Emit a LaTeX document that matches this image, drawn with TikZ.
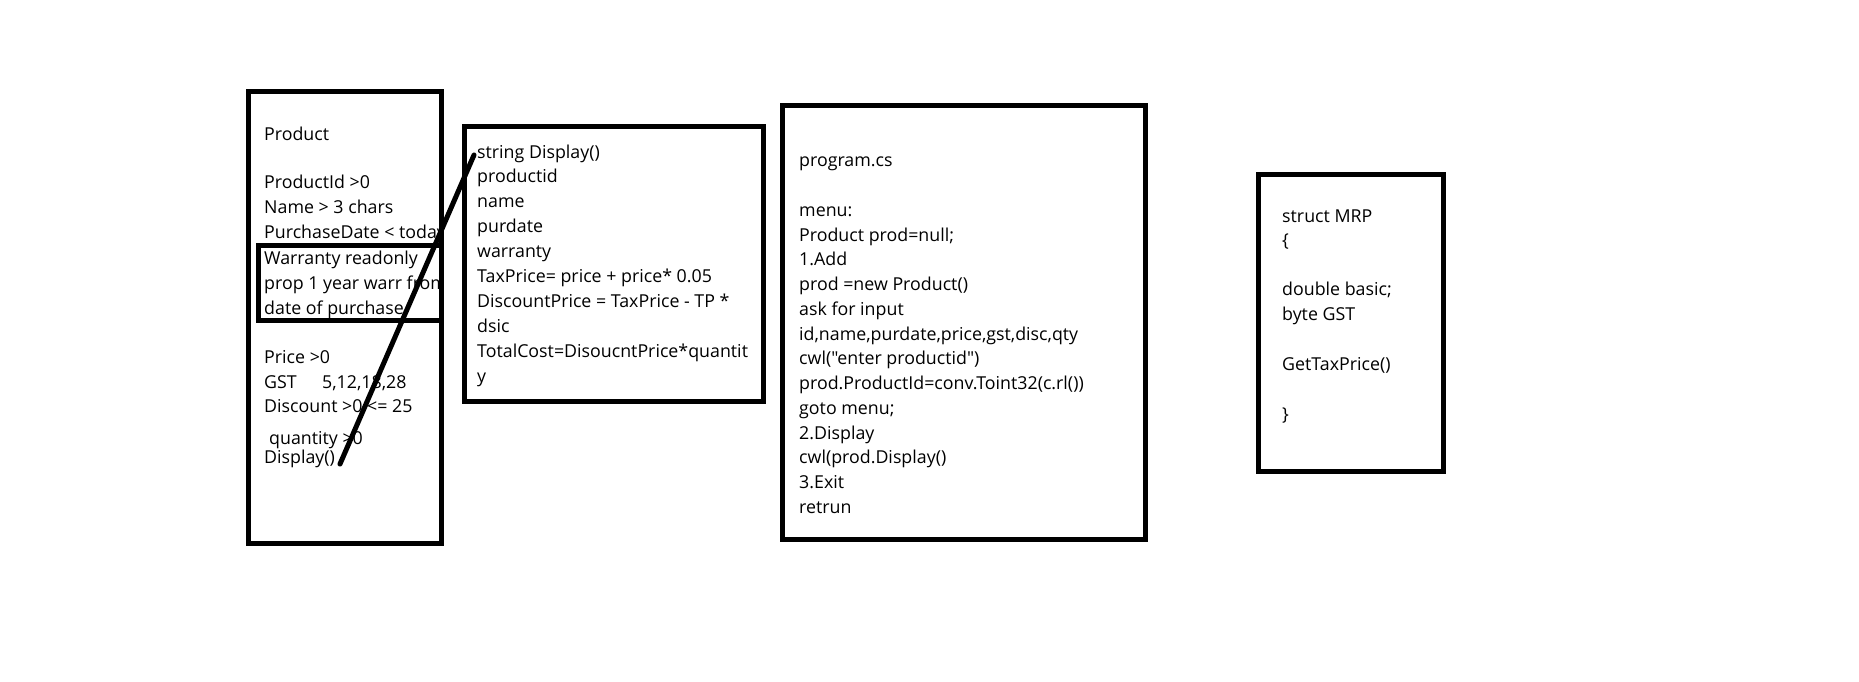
\documentclass[tikz,border=0pt]{standalone}
\usepackage{fontspec}
\setmainfont{Open Sans}[Ligatures=TeXOff]
\begin{document}
\begin{tikzpicture}[x=1pt,y=-1pt,
  box/.style={draw=black, line width=5pt, inner sep=0pt, outer sep=0pt, anchor=north west},
  txt/.style={anchor=base west, inner sep=0pt, font=\fontsize{17.8}{21}\selectfont},
  link/.style={line width=5pt, line cap=round}]
\fill[white] (0,0) rectangle (1859,681);
\useasboundingbox (0,0) rectangle (1859,681);

% Product box
\node[box, minimum width=193pt, minimum height=452pt] (product) at (248,91) {};
\node[box, minimum width=183pt, minimum height=75pt] (warranty) at (258,245) {};
\begin{scope}
\clip (248,91) rectangle (440,543);
\node[txt] (p1) at (264,140) {Product};
\node[txt] (p2) at (264,188) {ProductId >0};
\node[txt] (p3) at (264,213) {Name > 3 chars};
\node[txt] (p4) at (264,238) {PurchaseDate < today};
\node[txt] (p5) at (264,264) {Warranty readonly};
\node[txt] (p6) at (264,289) {prop 1 year warr from};
\node[txt] (p7) at (264,314) {date of purchase};
\node[txt] (p8) at (264,363) {Price >0};
\node[txt] (p9) at (264,388) {GST};
\node[txt] (p9b) at (322,388) {5,12,18,28};
\node[txt] (p10) at (264,412) {Discount >0 <= 25};
\node[txt] (p11) at (269,444) {quantity >0};
\node[txt] (p12) at (264,463) {Display()};
\end{scope}

% Display box
\node[box, minimum width=299pt, minimum height=275pt] (display) at (464,126) {};
\node[txt] (d1) at (477,158) {string Display()};
\node[txt] (d2) at (477,182) {productid};
\node[txt] (d3) at (477,207) {name};
\node[txt] (d4) at (477,232) {purdate};
\node[txt] (d5) at (477,257) {warranty};
\node[txt] (d6) at (477,282) {TaxPrice= price + price* 0.05};
\node[txt] (d7) at (477,307) {DiscountPrice = TaxPrice - TP *};
\node[txt] (d8) at (477,332) {dsic};
\node[txt] (d9) at (477,357) {TotalCost=DisoucntPrice*quantit};
\node[txt] (d10) at (477,382) {y};

% connector
\coordinate (la) at (340,464);
\coordinate (lb) at (474,155);
\draw[link] (la) -- (lb);

% program box
\node[box, minimum width=363pt, minimum height=434pt] (program) at (782,105) {};
\node[txt] (g1) at (799,166) {program.cs};
\node[txt] (g2) at (799,216) {menu:};
\node[txt] (g3) at (799,241) {Product prod=null;};
\node[txt] (g4) at (799,265) {1.Add};
\node[txt] (g5) at (799,290) {prod =new Product()};
\node[txt] (g6) at (799,315) {ask for input};
\node[txt] (g7) at (799,340) {id,name,purdate,price,gst,disc,qty};
\node[txt] (g8) at (799,364) {cwl("enter productid")};
\node[txt] (g9) at (799,389) {prod.ProductId=conv.Toint32(c.rl())};
\node[txt] (g10) at (799,414) {goto menu;};
\node[txt] (g11) at (799,439) {2.Display};
\node[txt] (g12) at (799,463) {cwl(prod.Display()};
\node[txt] (g13) at (799,488) {3.Exit};
\node[txt] (g14) at (799,513) {retrun};

% MRP box
\node[box, minimum width=185pt, minimum height=297pt] (mrp) at (1258,174) {};
\node[txt] (m1) at (1282,222) {struct MRP};
\node[txt] (m2) at (1282,246) {\{};
\node[txt] (m3) at (1282,295) {double basic;};
\node[txt] (m4) at (1282,320) {byte GST};
\node[txt] (m5) at (1282,370) {GetTaxPrice()};
\node[txt] (m6) at (1282,420) {\}};
\end{tikzpicture}
\end{document}
